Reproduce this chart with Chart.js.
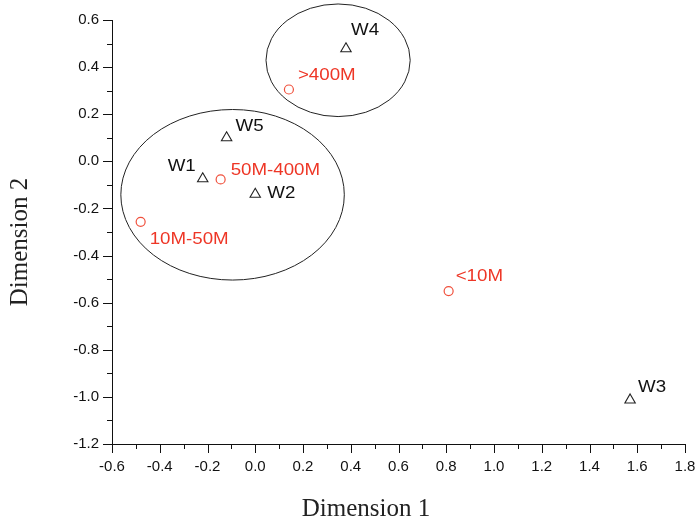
<!DOCTYPE html>
<html>
<head>
<meta charset="utf-8">
<script src="https://cdn.jsdelivr.net/npm/chart.js@4.4.1/dist/chart.umd.min.js"></script>
<style>
  html, body { margin: 0; padding: 0; background: #fff; }
  canvas { display: block; }
</style>
</head>
<body>
<canvas id="chart" width="696" height="522"></canvas>
<script>
// sampling sites (triangles)
const waterNames = ['W1', 'W2', 'W3', 'W4', 'W5'];
const waterDim1 = [-0.22, 0.0, 1.57, 0.38, -0.12];
const waterDim2 = [-0.074, -0.14, -1.013, 0.478, 0.10];

// size fractions (circles)
const sizeNames = ['<10M', '10M-50M', '50M-400M', '>400M'];
const sizeDim1 = [0.81, -0.48, -0.145, 0.141];
const sizeDim2 = [-0.551, -0.257, -0.077, 0.305];

// grouping ellipses, in data units
const groupCenterX = [-0.095, 0.347];
const groupCenterY = [-0.142, 0.429];
const groupRadiusX = [0.468, 0.302];
const groupRadiusY = [0.362, 0.239];

const xTickLabels = ['-0.6', '-0.4', '-0.2', '0.0', '0.2', '0.4', '0.6', '0.8', '1.0', '1.2', '1.4', '1.6', '1.8'];
const yTickLabels = ['-1.2', '-1.0', '-0.8', '-0.6', '-0.4', '-0.2', '0.0', '0.2', '0.4', '0.6'];

// label placement next to each marker (pixels)
const waterLabelOffsets = [[-7, -12, 'right'], [12, -1, 'left'], [8, -12, 'left'], [5, -18, 'left'], [9, -11, 'left']];
const sizeLabelOffsets = [[7, -15, 'left'], [9, 18, 'left'], [10, -9, 'left'], [9, -14, 'left']];

const SANS = "'Liberation Sans', Arial, sans-serif";
const SERIF = "'Liberation Serif', 'Times New Roman', serif";
const RED = '#ee3626';

function toPoints(xs, ys) {
  return xs.map((x, i) => ({ x: x, y: ys[i] }));
}

const ellipsePlugin = {
  id: 'ellipses',
  afterDatasetsDraw(chart) {
    const { ctx, scales: { x, y } } = chart;
    ctx.save();
    ctx.strokeStyle = '#222';
    ctx.lineWidth = 1;
    groupCenterX.forEach((cx, i) => {
      const px = x.getPixelForValue(cx);
      const py = y.getPixelForValue(groupCenterY[i]);
      const rx = Math.abs(x.getPixelForValue(cx + groupRadiusX[i]) - px);
      const ry = Math.abs(y.getPixelForValue(groupCenterY[i] + groupRadiusY[i]) - py);
      ctx.beginPath();
      ctx.ellipse(px, py, rx, ry, 0, 0, Math.PI * 2);
      ctx.stroke();
    });
    ctx.restore();
  }
};

const pointLabelPlugin = {
  id: 'pointLabels',
  afterDatasetsDraw(chart) {
    const ctx = chart.ctx;
    const sets = [
      { names: waterNames, offsets: waterLabelOffsets, color: '#111' },
      { names: sizeNames, offsets: sizeLabelOffsets, color: RED }
    ];
    ctx.save();
    ctx.font = '16px ' + SANS;
    ctx.textBaseline = 'middle';
    sets.forEach((s, d) => {
      chart.getDatasetMeta(d).data.forEach((el, i) => {
        const off = s.offsets[i];
        ctx.save();
        ctx.fillStyle = s.color;
        ctx.textAlign = off[2];
        ctx.translate(el.x + off[0], el.y + off[1]);
        ctx.scale(1.17, 1);
        ctx.fillText(s.names[i], 0, 0);
        ctx.restore();
      });
    });
    ctx.restore();
  }
};

// outward major/minor tick marks and the two axis titles
const axisPlugin = {
  id: 'axisDecor',
  afterDraw(chart) {
    const { ctx, chartArea, scales: { x, y } } = chart;
    ctx.save();
    ctx.strokeStyle = '#111';
    ctx.lineWidth = 1;
    ctx.beginPath();
    const xv = xTickLabels.map(Number);
    xv.forEach((v, i) => {
      const px = Math.round(x.getPixelForValue(v)) + 0.5;
      ctx.moveTo(px, chartArea.bottom);
      ctx.lineTo(px, chartArea.bottom + 9);
      if (i < xv.length - 1) {
        const mx = Math.round(x.getPixelForValue((v + xv[i + 1]) / 2)) + 0.5;
        ctx.moveTo(mx, chartArea.bottom);
        ctx.lineTo(mx, chartArea.bottom + 5);
      }
    });
    const yv = yTickLabels.map(Number);
    yv.forEach((v, i) => {
      const py = Math.round(y.getPixelForValue(v)) + 0.5;
      ctx.moveTo(chartArea.left, py);
      ctx.lineTo(chartArea.left - 9, py);
      if (i < yv.length - 1) {
        const my = Math.round(y.getPixelForValue((v + yv[i + 1]) / 2)) + 0.5;
        ctx.moveTo(chartArea.left, my);
        ctx.lineTo(chartArea.left - 5, my);
      }
    });
    ctx.stroke();

    ctx.fillStyle = '#222';
    ctx.font = '25px ' + SERIF;
    ctx.textAlign = 'center';
    ctx.textBaseline = 'alphabetic';
    ctx.fillText('Dimension 1', 366, 516);
    ctx.translate(27, 242);
    ctx.rotate(-Math.PI / 2);
    ctx.fillText('Dimension 2', 0, 0);
    ctx.restore();
  }
};

const config = {
  type: 'scatter',
  data: {
    datasets: [
      {
        label: 'Sites',
        data: toPoints(waterDim1, waterDim2),
        pointStyle: 'triangle',
        pointRadius: 6,
        borderWidth: 1.1,
        borderColor: '#222',
        backgroundColor: 'rgba(0,0,0,0)'
      },
      {
        label: 'Size fractions',
        data: toPoints(sizeDim1, sizeDim2),
        pointStyle: 'circle',
        pointRadius: 4.5,
        borderWidth: 1.2,
        borderColor: '#f0503c',
        backgroundColor: 'rgba(0,0,0,0)'
      }
    ]
  },
  options: {
    responsive: false,
    devicePixelRatio: 1,
    animation: false,
    layout: { padding: { top: 20, right: 11, left: 0, bottom: 0 } },
    plugins: {
      legend: { display: false },
      tooltip: { enabled: false }
    },
    scales: {
      x: {
        type: 'linear',
        min: -0.6,
        max: 1.8,
        grid: { display: false, drawTicks: false },
        border: { display: true, color: '#111', width: 1 },
        ticks: {
          padding: 14,
          color: '#111',
          font: { family: SANS, size: 15 },
          callback: (v) => Number(v).toFixed(1)
        },
        afterBuildTicks: (s) => { s.ticks = xTickLabels.map((t) => ({ value: Number(t) })); },
        afterFit: (s) => { s.height = 78; s.paddingLeft = 0; s.paddingRight = 0; }
      },
      y: {
        type: 'linear',
        min: -1.2,
        max: 0.6,
        grid: { display: false, drawTicks: false },
        border: { display: true, color: '#111', width: 1 },
        ticks: {
          padding: 13,
          color: '#111',
          font: { family: SANS, size: 15 },
          callback: (v) => Number(v).toFixed(1)
        },
        afterBuildTicks: (s) => { s.ticks = yTickLabels.map((t) => ({ value: Number(t) })); },
        afterFit: (s) => { s.width = 112; s.paddingTop = 0; s.paddingBottom = 0; }
      }
    }
  },
  plugins: [ellipsePlugin, pointLabelPlugin, axisPlugin]
};

new Chart(document.getElementById('chart').getContext('2d'), config);
</script>
</body>
</html>
